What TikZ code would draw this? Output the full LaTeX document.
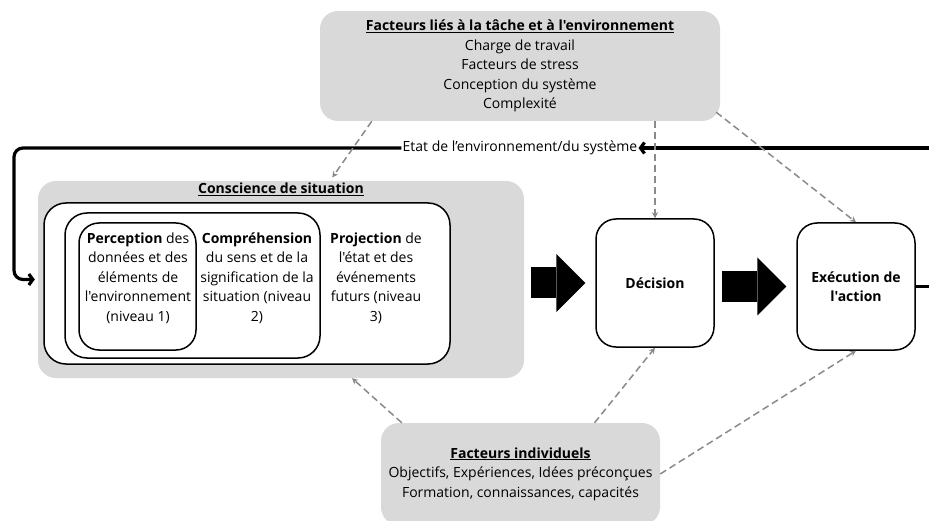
\documentclass[tikz,border=0pt]{standalone}
\usepackage{fontspec}
\setmainfont{Open Sans}[Ligatures=TeXOff]
\usetikzlibrary{calc}
\usetikzlibrary{arrows.meta}
\definecolor{boxgray}{HTML}{D9D9D9}
\definecolor{dashgray}{HTML}{8A8A8A}

\begin{document}
\begin{tikzpicture}[x=1pt,y=-1pt,
  every node/.style={font=\fontsize{14pt}{19.5pt}\selectfont,align=center},
  graybox/.style={fill=boxgray,rounded corners=18pt,inner sep=0pt},
  whitebox/.style={draw,fill=white,line width=1.5pt,rounded corners=20pt,inner sep=0pt},
  influence/.style={dashgray,line width=1.5pt,dash pattern=on 7pt off 4pt,
    -{Stealth[length=6pt,width=6pt]}},
  loopline/.style={line width=3.2pt,rounded corners=9pt},
  looptip/.style={-{Straight Barb[length=4pt,width=11pt]}},
  blockarrow/.style={line width=31pt,-{Triangle[length=29pt,width=58pt,line width=0pt]},
    shorten <=7pt,shorten >=10pt}]
\useasboundingbox (0,0) rectangle (929,521);

\node[graybox,minimum width=400pt,minimum height=110pt] (tf) at (520,66)
  {\underline{\textbf{Facteurs liés à la tâche et à l'environnement}}\\Charge de travail\\
   Facteurs de stress\\Conception du système\\Complexité};
\node[graybox,minimum width=279pt,minimum height=102pt] (fi) at (520.5,474)
  {\underline{\textbf{Facteurs individuels}}\\Objectifs, Expériences, Idées préconçues\\
   Formation, connaissances, capacités};

\node[graybox,minimum width=486pt,minimum height=197pt] (cs) at (281,279.5) {};
\node (cstitle) at (281,189) {\underline{\textbf{Conscience de situation}}};
\node[whitebox,minimum width=406pt,minimum height=161pt,rounded corners=22pt] (sa3) at (247,283.5) {};
\node[whitebox,minimum width=255pt,minimum height=145pt,rounded corners=22pt] (sa2) at (192.5,285.5) {};
\node[whitebox,minimum width=117pt,minimum height=127pt] (sa1) at (137.5,286.5) {};
\node (perc) at (138,278) {\textbf{Perception} des\\données et des\\éléments de\\l'environnement\\(niveau 1)};
\node (comp) at (257,278) {\textbf{Compréhension}\\du sens et de la\\signification de la\\situation (niveau\\2)};
\node (proj) at (376,278) {\textbf{Projection} de\\l'état et des\\événements\\futurs (niveau\\3)};

\node[whitebox,minimum width=118pt,minimum height=128pt] (dec) at (655,283) {\textbf{Décision}};
\node[whitebox,minimum width=118pt,minimum height=127pt] (exec) at (856,286.5)
  {\textbf{Exécution de}\\\textbf{l'action}};

\draw[blockarrow] (cs.east |- dec.west) -- (dec.west);
\draw[blockarrow] (dec.east |- exec.west) -- (exec.west);

\coordinate (loopin) at (935,148);
\coordinate (loopleft) at (14,148);
\node[inner sep=1pt] (etat) at (520,148) {Etat de l’environnement/du système};
\draw[loopline] (exec.east) -- (exec.east -| loopin);
\draw[loopline,looptip] (loopin) -- (etat.east);
\draw[loopline,looptip,shorten >=3pt] (etat.west) -- (loopleft) |- (cs.west);

\path ([xshift=52pt]tf.south west) edge[influence,shorten >=4pt] ([xshift=49pt]cs.north)
      (tf.south -| dec.north) edge[influence] (dec.north)
      ([xshift=-4pt,yshift=9pt]tf.south east) edge[influence] (exec.north);
\path ([xshift=21pt]fi.north west) edge[influence] ([xshift=71pt]cs.south)
      ([xshift=74pt]fi.north) edge[influence] (dec.south)
      (fi.east) edge[influence] (exec.south);
\end{tikzpicture}
\end{document}
